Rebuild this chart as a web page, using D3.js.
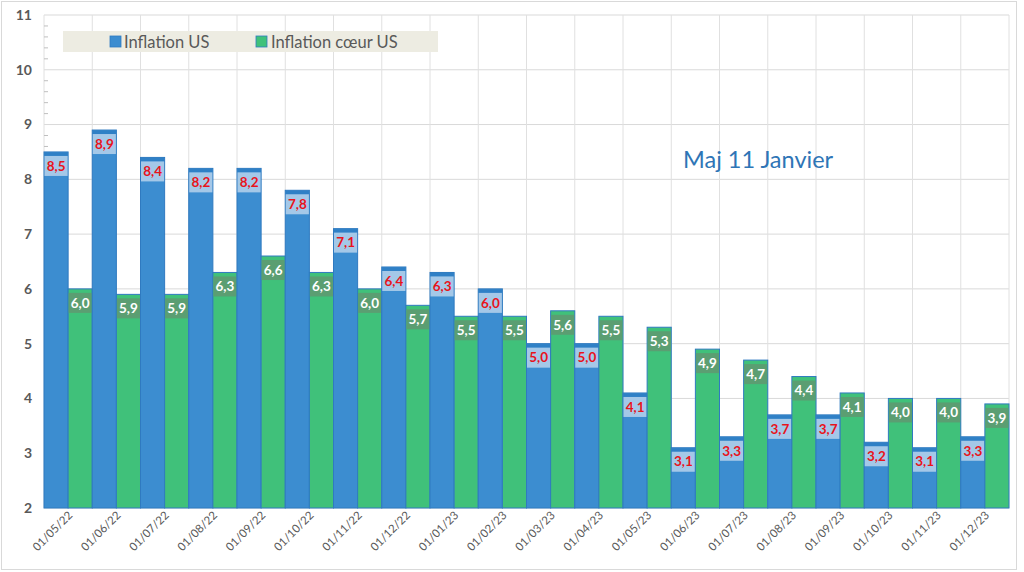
<!DOCTYPE html>
<html><head><meta charset="utf-8">
<script src="https://cdn.jsdelivr.net/npm/d3@7"></script>
<style>body{margin:0;background:#fff;} svg{display:block;}</style>
</head><body>
<svg id="c" width="1024" height="572"></svg>
<script>
const categories = ["01/05/22","01/06/22","01/07/22","01/08/22","01/09/22","01/10/22","01/11/22","01/12/22","01/01/23","01/02/23","01/03/23","01/04/23","01/05/23","01/06/23","01/07/23","01/08/23","01/09/23","01/10/23","01/11/23","01/12/23"];
const inflationUS = [8.5,8.9,8.4,8.2,8.2,7.8,7.1,6.4,6.3,6.0,5.0,5.0,4.1,3.1,3.3,3.7,3.7,3.2,3.1,3.3];
const inflationCore = [6.0,5.9,5.9,6.3,6.6,6.3,6.0,5.7,5.5,5.5,5.6,5.5,5.3,4.9,4.7,4.4,4.1,4.0,4.0,3.9];
const seriesNames = ["Inflation US","Inflation cœur US"];
const yTicks = [2,3,4,5,6,7,8,9,10,11];

const svg = d3.select("#c");
const font = "Lato, 'Open Sans', sans-serif";
const L = 44, R = 1009, T = 15, B = 508;
const x = d3.scaleBand().domain(categories).range([L, R]).padding(0);
const sub = d3.scaleBand().domain([0,1]).range([0, x.bandwidth()]).padding(0);
const y = d3.scaleLinear().domain([2, 11]).range([B, T]);

// outer frame
svg.append("rect").attr("x",1.5).attr("y",1.5).attr("width",1015).attr("height",568)
  .attr("fill","#fff").attr("stroke","#d9d9d9");

// horizontal grid
svg.append("g").selectAll("line").data(yTicks).join("line")
  .attr("x1",L).attr("x2",R).attr("y1",d=>y(d)).attr("y2",d=>y(d))
  .attr("stroke","#d9d9d9").attr("stroke-width",1);
// vertical grid at category boundaries
const bounds = categories.map(c=>x(c)).concat([R]);
svg.append("g").selectAll("line").data(bounds).join("line")
  .attr("x1",d=>d).attr("x2",d=>d).attr("y1",T).attr("y2",B)
  .attr("stroke","#e0e0e0").attr("stroke-width",1);

// y axis labels
svg.append("g").selectAll("text").data(yTicks).join("text")
  .attr("x",32).attr("y",d=>y(d)).attr("dy","0.35em").attr("text-anchor","end")
  .attr("font-family",font).attr("font-weight","bold").attr("font-size",14).attr("fill","#595959")
  .text(d=>d);
// minor ticks
const minor = d3.range(2, 11.001, 0.2).filter(v=>Math.abs(v-Math.round(v))>0.01);
svg.append("g").selectAll("line").data(minor).join("line")
  .attr("x1",L).attr("x2",L+4).attr("y1",d=>y(d)).attr("y2",d=>y(d))
  .attr("stroke","#bfbfbf");

// legend
svg.append("rect").attr("x",63).attr("y",31).attr("width",375).attr("height",21).attr("fill","#edece2");
const leg = [{n:seriesNames[0],c:"#3c8dd0",sx:110,tx:124},{n:seriesNames[1],c:"#40c17a",sx:256,tx:271}];
leg.forEach(l=>{
  svg.append("rect").attr("x",l.sx).attr("y",36).attr("width",11).attr("height",11).attr("fill",l.c).attr("stroke","#2f7ac0").attr("stroke-width",0.8);
  svg.append("text").attr("x",l.tx).attr("y",42).attr("dy","0.35em").attr("font-family",font)
    .attr("font-size",16.5).attr("fill","#595959").text(l.n);
});

// bars
const data = categories.map((c,i)=>({c, v:[inflationUS[i], inflationCore[i]]}));
const colors = ["#3c8dd0","#40c17a"];
const boxColors = ["#a4c8e8","#5b9e72"];
const textColors = ["#e8141c","#ffffff"];
const g = svg.append("g");
data.forEach(d=>{
  [0,1].forEach(k=>{
    const v = d.v[k];
    const bx = x(d.c)+sub(k), bw = sub.bandwidth();
    g.append("rect").attr("x",bx).attr("y",y(v)).attr("width",bw).attr("height",y(2)-y(v))
      .attr("fill",colors[k]).attr("stroke","#2f7ac0").attr("stroke-width",1);
    if(k===0){
      g.append("rect").attr("x",bx+0.5).attr("y",y(v)+0.5).attr("width",bw-1).attr("height",3.5).attr("fill","#2f80c6");
    }
    g.append("rect").attr("x",bx+0.5).attr("y",y(v)+4).attr("width",bw-1).attr("height",20).attr("fill",boxColors[k]);
    g.append("text").attr("x",bx+bw/2).attr("y",y(v)+14).attr("dy","0.35em").attr("text-anchor","middle")
      .attr("font-family",font).attr("font-weight","bold").attr("font-size",13.5).attr("fill",textColors[k])
      .text(d3.format(".1f")(v).replace(".",","));
  });
});

// x labels
svg.append("g").selectAll("text").data(categories).join("text")
  .attr("transform",d=>`translate(${x(d)+x.bandwidth()/2+5},${516}) rotate(-45)`)
  .attr("text-anchor","end").attr("font-family",font).attr("font-size",11.5).attr("fill","#595959")
  .text(d=>d);

// annotation
svg.append("text").attr("x",683).attr("y",160).attr("dy","0.35em").attr("font-family",font)
  .attr("font-size",23.5).attr("fill","#2e75b6").text("Maj 11 Janvier");
</script>
</body></html>
